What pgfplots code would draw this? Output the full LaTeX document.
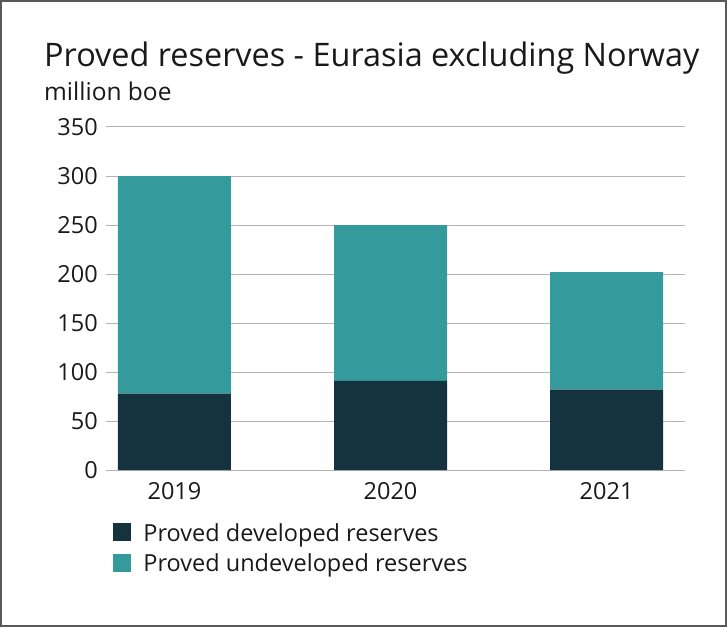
\documentclass[border=0pt]{standalone}
\usepackage{fontspec}
\setmainfont{Open Sans}
\usepackage{pgfplots}
\pgfplotsset{compat=1.18}
\definecolor{dev}{HTML}{14333F}
\definecolor{undev}{HTML}{359A9B}
\definecolor{gridc}{HTML}{B4B4B4}
\begin{document}
\begin{tikzpicture}
\useasboundingbox (0pt,0pt) rectangle (727pt,627pt);
\draw[line width=2pt, color=black!65] (1pt,1pt) rectangle (726pt,626pt);
\node[anchor=base west, font=\fontsize{32.4}{36}\selectfont, inner sep=0, color=black!90] at (44pt,560pt) {Proved reserves - Eurasia excluding Norway};
\node[anchor=base west, font=\fontsize{24.5}{28}\selectfont, inner sep=0, color=black!90] at (44pt,526pt) {million boe};
\begin{axis}[at={(106pt,157pt)}, anchor=south west, scale only axis,
  width=579pt, height=343pt,
  xmin=-0.317, xmax=2.363, ymin=0, ymax=350,
  ybar stacked, bar width=113pt,
  xtick={0,1,2}, xticklabels={2019,2020,2021},
  ytick={0,50,...,350},
  ymajorgrids, grid style={gridc, line width=1pt},
  axis line style={draw=none}, tick style={draw=none},
  /pgf/number format/assume math mode=true,
  ticklabel style={font=\fontsize{23.5}{26}\selectfont, color=black!90},
  yticklabel style={inner sep=0pt, xshift=-8pt},
  xticklabel style={inner sep=0pt, yshift=-12pt},
  legend style={at={(0.0125,-0.150)}, anchor=north west, draw=none, fill=none,
    font=\fontsize{23.5}{28}\selectfont, row sep=7pt, inner sep=0pt,
    legend cell align=left, text=black!90},
  legend image code/.code={\fill[#1] (0pt,-8pt) rectangle (18pt,10pt); \path (28pt,0pt);},
]
\addplot[fill=dev, draw=none] coordinates {(0,78) (1,91) (2,82)};
\addplot[fill=undev, draw=none] coordinates {(0,222) (1,159) (2,120)};
\legend{Proved developed reserves, Proved undeveloped reserves}
\end{axis}
\end{tikzpicture}
\end{document}
